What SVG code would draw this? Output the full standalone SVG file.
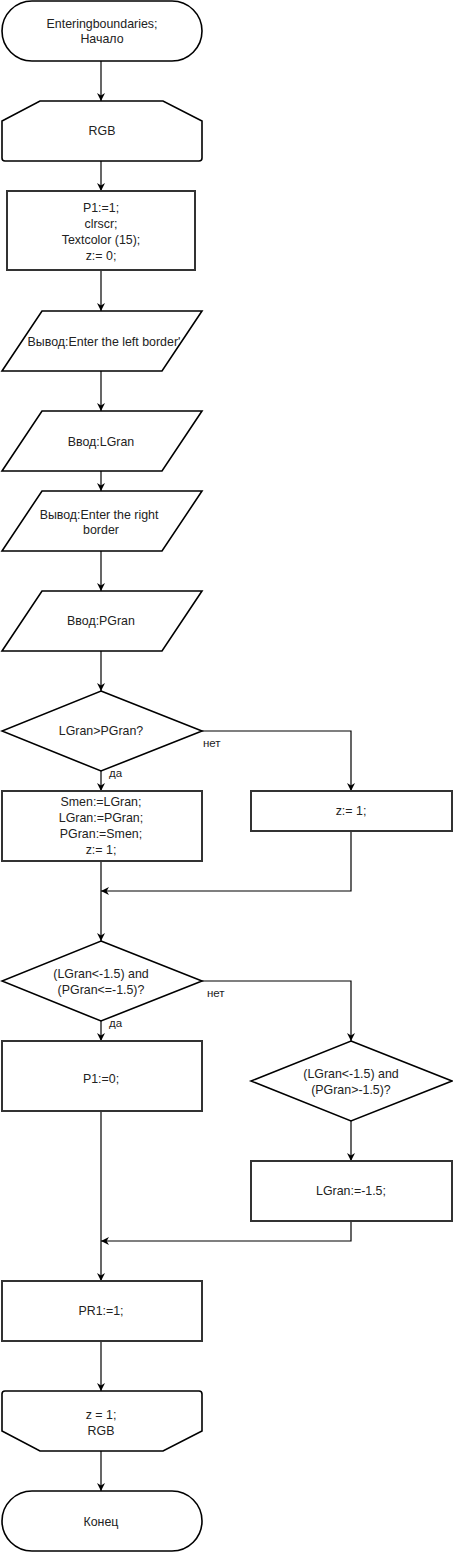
<svg xmlns="http://www.w3.org/2000/svg" width="453" height="1553" viewBox="0 0 453 1553">
<style>
.s{fill:#fff;stroke:#000;stroke-width:1.6}
.b{fill:#fff;stroke:#333;stroke-width:2}
.t{font-family:"Liberation Sans",Arial,sans-serif;font-size:12.4px;fill:#222;text-anchor:middle;dominant-baseline:central}
.l{font-family:"Liberation Sans",Arial,sans-serif;font-size:11.5px;fill:#222;dominant-baseline:central}
.c{fill:none;stroke:#000;stroke-width:1.2}
</style>
<defs>
<marker id="a" viewBox="0 0 10 10" markerUnits="userSpaceOnUse" markerWidth="8" markerHeight="9" refX="10" refY="5" orient="auto">
<path d="M0,0 L10,5 L0,10 L3,5 Z" fill="#000"/>
</marker>
</defs>
<g id="connectors">
<path class="c" d="M101,61 V101" marker-end="url(#a)"/>
<path class="c" d="M101,161 V191" marker-end="url(#a)"/>
<path class="c" d="M101,270 V311" marker-end="url(#a)"/>
<path class="c" d="M101,371 V411" marker-end="url(#a)"/>
<path class="c" d="M101,471 V491" marker-end="url(#a)"/>
<path class="c" d="M101,551 V591" marker-end="url(#a)"/>
<path class="c" d="M101,651 V691" marker-end="url(#a)"/>
<path class="c" d="M101,771 V791" marker-end="url(#a)"/>
<path class="c" d="M202,731 H351 V791" marker-end="url(#a)"/>
<path class="c" d="M101,861 V941" marker-end="url(#a)"/>
<path class="c" d="M351,831 V891 H101" marker-end="url(#a)"/>
<path class="c" d="M101,1021 V1041" marker-end="url(#a)"/>
<path class="c" d="M202,981 H351 V1041" marker-end="url(#a)"/>
<path class="c" d="M351,1121 V1161" marker-end="url(#a)"/>
<path class="c" d="M101,1111 V1281" marker-end="url(#a)"/>
<path class="c" d="M351,1221 V1241 H101" marker-end="url(#a)"/>
<path class="c" d="M101,1341 V1391" marker-end="url(#a)"/>
<path class="c" d="M101,1451 V1491" marker-end="url(#a)"/>
<text class="l" x="203" y="743">нет</text>
<text class="l" x="109" y="773">да</text>
<text class="l" x="207" y="993">нет</text>
<text class="l" x="109" y="1023">да</text>
</g>
<g id="start">
<rect class="s" x="2" y="1" width="200" height="60" rx="30" ry="30"/>
<text class="t" x="102" y="24">Enteringboundaries;</text>
<text class="t" x="102" y="39">Начало</text>
</g>
<g id="loopStart">
<path class="s" d="M40,101 L163,101 L202,121 L202,158 Q202,161 199,161 L5,161 Q2,161 2,158 L2,121 Z"/>
<text class="t" x="102" y="131">RGB</text>
</g>
<g id="init">
<rect class="b" x="7" y="191" width="188" height="79"/>
<text class="t" x="101" y="208">P1:=1;</text>
<text class="t" x="101" y="224">clrscr;</text>
<text class="t" x="101" y="240">Textcolor (15);</text>
<text class="t" x="101" y="256">z:= 0;</text>
</g>
<g id="outLeft">
<path class="s" d="M42,311 L202,311 L162,371 L2,371 Z"/>
<text class="t" x="104" y="342">Вывод:Enter the left border'</text>
</g>
<g id="inLGran">
<path class="s" d="M42,411 L202,411 L162,471 L2,471 Z"/>
<text class="t" x="101" y="442">Ввод:LGran</text>
</g>
<g id="outRight">
<path class="s" d="M42,491 L202,491 L162,551 L2,551 Z"/>
<text class="t" x="99" y="515">Вывод:Enter the right</text>
<text class="t" x="101" y="530">border</text>
</g>
<g id="inPGran">
<path class="s" d="M42,591 L202,591 L162,651 L2,651 Z"/>
<text class="t" x="101" y="621">Ввод:PGran</text>
</g>
<g id="cond1">
<path class="s" d="M101,691 L202,731 L101,771 L2,731 Z"/>
<text class="t" x="101" y="731">LGran&gt;PGran?</text>
</g>
<g id="swap">
<rect class="b" x="2" y="791" width="200" height="70"/>
<text class="t" x="101" y="802">Smen:=LGran;</text>
<text class="t" x="101" y="818">LGran:=PGran;</text>
<text class="t" x="101" y="834">PGran:=Smen;</text>
<text class="t" x="101" y="850">z:= 1;</text>
</g>
<g id="z1">
<rect class="b" x="251" y="791" width="201" height="40"/>
<text class="t" x="351" y="811">z:= 1;</text>
</g>
<g id="cond2">
<path class="s" d="M101,941 L202,981 L101,1021 L2,981 Z"/>
<text class="t" x="101" y="974">(LGran&lt;-1.5) and</text>
<text class="t" x="101" y="990">(PGran&lt;=-1.5)?</text>
</g>
<g id="p10">
<rect class="b" x="2" y="1041" width="200" height="70"/>
<text class="t" x="101" y="1079">P1:=0;</text>
</g>
<g id="cond3">
<path class="s" d="M351,1041 L452,1081 L351,1121 L251,1081 Z"/>
<text class="t" x="351" y="1074">(LGran&lt;-1.5) and</text>
<text class="t" x="351" y="1090">(PGran&gt;-1.5)?</text>
</g>
<g id="lgranSet">
<rect class="b" x="251" y="1161" width="201" height="60"/>
<text class="t" x="351" y="1191">LGran:=-1.5;</text>
</g>
<g id="pr1">
<rect class="b" x="2" y="1281" width="200" height="60"/>
<text class="t" x="101" y="1311">PR1:=1;</text>
</g>
<g id="loopEnd">
<path class="s" d="M5,1391 L199,1391 Q202,1391 202,1394 L202,1431 L163,1451 L40,1451 L2,1431 L2,1394 Q2,1391 5,1391 Z"/>
<text class="t" x="101" y="1415">z = 1;</text>
<text class="t" x="101" y="1431">RGB</text>
</g>
<g id="end">
<rect class="s" x="2" y="1491" width="200" height="60" rx="30" ry="30"/>
<text class="t" x="101" y="1522">Конец</text>
</g>
</svg>
